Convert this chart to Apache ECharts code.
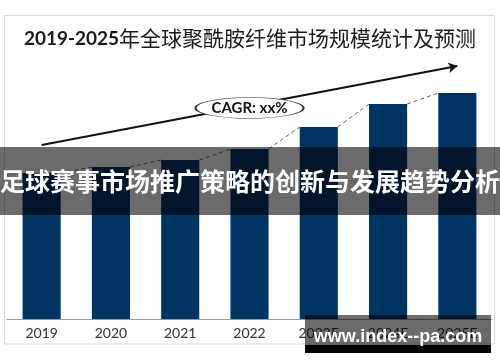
<!DOCTYPE html>
<html>
<head>
<meta charset="utf-8">
<script src="https://cdn.jsdelivr.net/npm/echarts@6/dist/echarts.min.js"></script>
<style>html,body{margin:0;padding:0;background:#fff;}#c{width:500px;height:362px;}</style>
</head>
<body>
<div id="c"></div>
<script>
const titleYears = '2019-2025';
const titleText = '年全球聚酰胺纤维市场规模统计及预测';
const categories = ['2019', '2020', '2021', '2022', '2023E', '2024E', '2025E'];
const values = [146, 152, 159, 170, 192, 215, 226];
const trendStart = ['2019', 174];
const trendEnd = ['2025E', 253];
const cagrPoint = ['2022', 211];
const cagrLabel = 'CAGR: xx%';
const bannerText = '足球赛事市场推广策略的创新与发展趋势分析';
const watermarkText = 'www.index--pa.com';

const chart = echarts.init(document.getElementById('c'), null, {renderer: 'canvas'});
const barRatio = 0.55;
chart.setOption({
  animation: false,
  backgroundColor: '#fff',
  title: {
    left: 'center',
    top: 28,
    padding: 0,
    text: '{a|' + titleYears + '}{b|' + titleText + '}',
    textStyle: {
      rich: {
        a: {fontFamily: 'Lato', fontWeight: 'bold', fontSize: 19, color: '#1a1a1a'},
        b: {fontFamily: 'Noto Sans CJK SC', fontWeight: 'normal', fontSize: 21, color: '#1a1a1a'}
      }
    }
  },
  grid: {left: 7, right: 8, top: 19, bottom: 43, containLabel: false},
  xAxis: {
    type: 'category',
    data: categories,
    axisLine: {lineStyle: {color: '#9a9a9a', width: 1}},
    axisTick: {show: false},
    axisLabel: {color: '#333', fontSize: 14, fontFamily: 'Lato', margin: 7, interval: 0}
  },
  yAxis: {type: 'value', min: 0, max: 300, show: false, splitLine: {show: false}},
  graphic: [
    {type: 'rect', z: -10, silent: true, shape: {x: 4.5, y: 15.5, width: 490, height: 328.5},
     style: {fill: 'none', stroke: '#d9d9d9', lineWidth: 1}},
    {type: 'rect', z: 100, silent: true, shape: {x: 0, y: 147, width: 500, height: 68},
     style: {fill: 'rgba(0,0,0,0.58)'}},
    {type: 'text', z: 101, silent: true, x: 250, y: 181,
     style: {text: bannerText, fill: '#fff', font: 'bold 25px "Noto Sans CJK SC"', textAlign: 'center', textVerticalAlign: 'middle'}},
    {type: 'rect', z: 100, silent: true, shape: {x: 305, y: 315, width: 186, height: 30},
     style: {fill: 'rgba(0,0,0,0.58)'}},
    {type: 'rect', z: 100, silent: true, shape: {x: 305, y: 345, width: 186, height: 8},
     style: {fill: '#000'}},
    {type: 'text', z: 101, silent: true, x: 398, y: 337,
     style: {text: watermarkText, fill: '#fff', font: 'bold 18px "Liberation Sans"', textAlign: 'center', textVerticalAlign: 'middle'}}
  ],
  series: [
    {
      type: 'bar',
      data: values,
      barWidth: (barRatio * 100) + '%',
      itemStyle: {color: '#003462'},
      z: 2,
      markLine: {
        silent: true,
        symbol: ['none', 'arrow'],
        symbolSize: [8, 9],
        label: {show: false},
        lineStyle: {type: 'solid', color: '#111', width: 2.2},
        data: [[{coord: trendStart}, {coord: trendEnd}]]
      }
    },
    {
      type: 'custom',
      z: 3,
      data: values.map((v, i) => [i, v]),
      renderItem: function (params, api) {
        const i = api.value(0);
        if (i >= values.length - 1) return null;
        const p1 = api.coord([i, api.value(1)]);
        const p2 = api.coord([i + 1, values[i + 1]]);
        const hw = api.size([1, 0])[0] * barRatio / 2;
        return {
          type: 'line',
          shape: {x1: p1[0] + hw, y1: p1[1], x2: p2[0] - hw, y2: p2[1]},
          style: {stroke: '#666', lineWidth: 1, lineDash: [4, 3]}
        };
      },
      markPoint: {
        silent: true,
        symbol: 'circle',
        symbolSize: [108, 21],
        itemStyle: {color: '#fff', borderColor: '#333', borderWidth: 1},
        label: {show: true, position: 'inside', formatter: cagrLabel, color: '#111', fontSize: 15, fontWeight: 'bold', fontFamily: 'Lato'},
        data: [{coord: cagrPoint}]
      }
    }
  ]
});
</script>
</body>
</html>
